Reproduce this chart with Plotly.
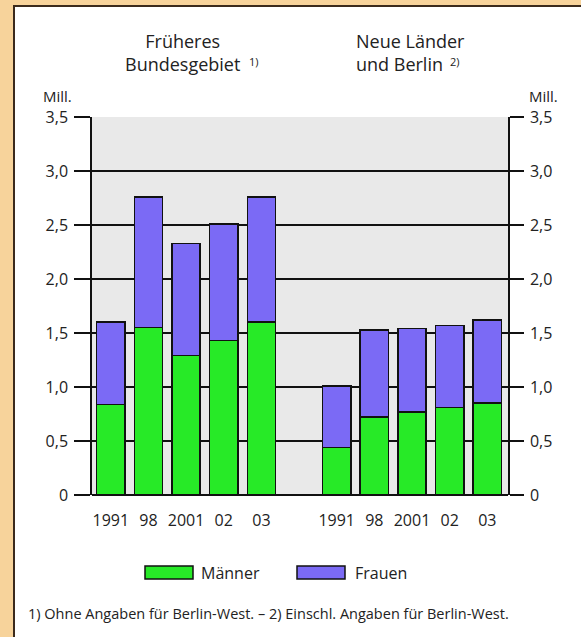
import plotly.graph_objects as go

# ---- data ----
years = ["1991", "98", "2001", "02", "03"]
region_titles = ["Früheres<br>Bundesgebiet", "Neue Länder<br>und Berlin"]
region_notes = ["1)", "2)"]
maenner_west = [0.84, 1.55, 1.29, 1.43, 1.60]
frauen_west = [0.76, 1.21, 1.04, 1.08, 1.16]
maenner_ost = [0.44, 0.72, 0.77, 0.81, 0.85]
frauen_ost = [0.57, 0.81, 0.77, 0.76, 0.77]
y_ticks = [0, 0.5, 1.0, 1.5, 2.0, 2.5, 3.0, 3.5]
y_ticktext = ["0", "0,5", "1,0", "1,5", "2,0", "2,5", "3,0", "3,5"]
series_names = ["Männer", "Frauen"]
footnote = "1) Ohne Angaben für Berlin-West. – 2) Einschl. Angaben für Berlin-West."

GREEN = "#27ea27"
PURPLE = "#7b6af5"
BORDER = "#111111"
FONT = "Open Sans"
TXT = "#222222"

# positions: group 1 at 0..4, empty slot 5, group 2 at 6..10
x_west = list(range(0, 5))
x_ost = list(range(6, 11))
xpos = x_west + x_ost
maenner = maenner_west + maenner_ost
frauen = frauen_west + frauen_ost

fig = go.Figure()
fig.add_bar(x=xpos, y=maenner, name=series_names[0], marker=dict(color=GREEN, line=dict(color=BORDER, width=1.5)),
            width=0.75, showlegend=False)
fig.add_bar(x=xpos, y=frauen, name=series_names[1], marker=dict(color=PURPLE, line=dict(color=BORDER, width=1.5)),
            width=0.75, showlegend=False)
# invisible trace for right axis
fig.add_scatter(x=[0], y=[0], yaxis="y2", mode="markers", marker=dict(opacity=0), showlegend=False, hoverinfo="skip")

W, H = 581, 637
L, R, T, B = 92, 508, 117, 495
fig.update_layout(
    width=W, height=H, autosize=False,
    margin=dict(l=L, r=W - R, t=T, b=H - B, pad=0),
    barmode="stack",
    paper_bgcolor="white",
    plot_bgcolor="#e9e9e9",
    font=dict(family=FONT, color=TXT, size=16),
    xaxis=dict(range=[-0.5, 10.55], tickvals=xpos, ticktext=years + years, showgrid=False,
               zeroline=False, showline=False, ticks="", tickfont=dict(size=16), ticklabelstandoff=14),
    yaxis=dict(range=[0, 3.5], tickvals=y_ticks, ticktext=y_ticktext, showgrid=True, gridcolor="#111111",
               gridwidth=1.5, zeroline=True, zerolinecolor="#111111", zerolinewidth=1.5,
               showline=True, linecolor="#111111", linewidth=1.5, ticks="outside", ticklen=16,
               tickcolor="#111111", tickwidth=1.5, tickfont=dict(size=16), ticklabelstandoff=3),
    yaxis2=dict(range=[0, 3.5], tickvals=y_ticks, ticktext=y_ticktext, overlaying="y", side="right",
                showgrid=False, zeroline=False, showline=True, linecolor="#111111", linewidth=1.5,
                ticks="outside", ticklen=14, tickcolor="#111111", tickwidth=1.5, tickfont=dict(size=16),
                ticklabelstandoff=3),
)

def px_x(p):
    return (p - L) / (R - L)

def px_y(p):
    return (B - p) / (B - T)

shapes = []
ORANGE = "#f7d39b"
FRAME = "#3b2a1c"
# orange border strips
shapes.append(dict(type="rect", xref="paper", yref="paper", x0=px_x(-5), x1=px_x(13), y0=px_y(-5), y1=px_y(H + 5),
                   fillcolor=ORANGE, line=dict(width=0), layer="below"))
shapes.append(dict(type="rect", xref="paper", yref="paper", x0=px_x(-5), x1=px_x(W + 5), y0=px_y(-5), y1=px_y(5),
                   fillcolor=ORANGE, line=dict(width=0), layer="below"))
shapes.append(dict(type="line", xref="paper", yref="paper", x0=px_x(14), x1=px_x(14), y0=px_y(5), y1=px_y(H + 5),
                   line=dict(color=FRAME, width=2)))
shapes.append(dict(type="line", xref="paper", yref="paper", x0=px_x(13), x1=px_x(W + 5), y0=px_y(6), y1=px_y(6),
                   line=dict(color=FRAME, width=2)))
# legend swatches
shapes.append(dict(type="rect", xref="paper", yref="paper", x0=px_x(145), x1=px_x(193), y0=px_y(579), y1=px_y(566),
                   fillcolor=GREEN, line=dict(color=BORDER, width=1.5)))
shapes.append(dict(type="rect", xref="paper", yref="paper", x0=px_x(297), x1=px_x(345), y0=px_y(579), y1=px_y(566),
                   fillcolor=PURPLE, line=dict(color=BORDER, width=1.5)))
fig.update_layout(shapes=shapes)

ann = []
ann.append(dict(text=region_titles[0], x=px_x(182), xref="paper", xanchor="center", y=px_y(52), yref="paper",
                yanchor="middle", showarrow=False, font=dict(size=18, color=TXT), align="center"))
ann.append(dict(text=region_titles[1], x=px_x(354), xref="paper", xanchor="left", y=px_y(52), yref="paper",
                yanchor="middle", showarrow=False, font=dict(size=18, color=TXT), align="left"))
ann.append(dict(text=region_notes[0], x=px_x(247), xref="paper", xanchor="left", y=px_y(61), yref="paper",
                yanchor="middle", showarrow=False, font=dict(size=11, color=TXT)))
ann.append(dict(text=region_notes[1], x=px_x(448), xref="paper", xanchor="left", y=px_y(61), yref="paper",
                yanchor="middle", showarrow=False, font=dict(size=11, color=TXT)))
ann.append(dict(text="Mill.", x=px_x(41), xref="paper", xanchor="left", y=px_y(96), yref="paper", yanchor="middle",
                showarrow=False, font=dict(size=15, color=TXT)))
ann.append(dict(text="Mill.", x=px_x(560), xref="paper", xanchor="right", y=px_y(96), yref="paper", yanchor="middle",
                showarrow=False, font=dict(size=15, color=TXT)))
ann.append(dict(text=series_names[0], x=px_x(199), xref="paper", xanchor="left", y=px_y(573), yref="paper",
                yanchor="middle", showarrow=False, font=dict(size=16, color=TXT)))
ann.append(dict(text=series_names[1], x=px_x(353), xref="paper", xanchor="left", y=px_y(573), yref="paper",
                yanchor="middle", showarrow=False, font=dict(size=16, color=TXT)))
ann.append(dict(text=footnote, x=px_x(26), xref="paper", xanchor="left", y=px_y(613), yref="paper",
                yanchor="middle", showarrow=False, font=dict(size=14.5, color=TXT)))
fig.update_layout(annotations=ann)

fig.write_html("out.html", config={"displayModeBar": False},
               post_script="document.body.style.margin='0';")
